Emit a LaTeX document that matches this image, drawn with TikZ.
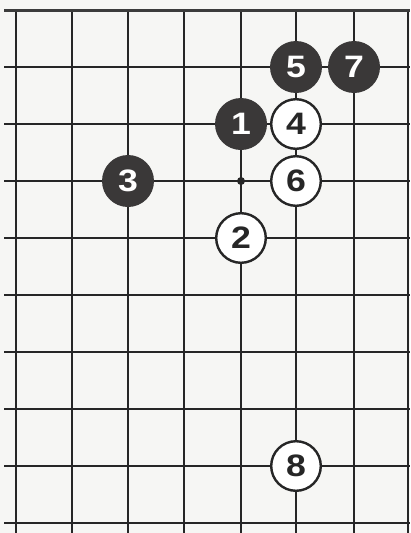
\documentclass[tikz,border=0pt]{standalone}
\usepackage{fontspec}
\setmainfont{Liberation Sans}
\definecolor{paper}{HTML}{F6F6F4}
\definecolor{ink}{HTML}{262626}
\definecolor{blackstone}{HTML}{3A3838}
\tikzset{
  gridline/.style={draw=ink, line width=1.5pt},
  edgeline/.style={draw=ink!90, line width=3pt},
  stonebase/.style={circle, minimum size=52pt, inner sep=0pt,
    font=\bfseries\fontsize{31}{31}\selectfont},
  bstone/.style={stonebase, fill=blackstone, text=white},
  wstone/.style={stonebase, draw=ink, fill=white, line width=2.4pt, minimum size=49.6pt, text=ink},
  hoshi/.style={circle, fill=ink, minimum size=8pt, inner sep=0pt}
}
\newcommand{\dg}[1]{\scalebox{1.15}[1]{#1}}
\begin{document}
\begin{tikzpicture}[x=1pt,y=-1pt]
\useasboundingbox (0,0) rectangle (410,533);
\fill[paper] (0,0) rectangle (410,533);
% vertical lines
\foreach \x in {16,72,128,184,241,296,354,408}
  \draw[gridline] (\x,10) -- (\x,533);
% horizontal lines
\foreach \y in {67,124,181,238,295,352,409,466,523}
  \draw[gridline] (4,\y) -- (410,\y);
% top edge
\draw[edgeline] (4,10) -- (410,10);
% hoshi
\node[hoshi] (h) at (241,181) {};
% stones
\node[bstone] (s5) at (296,67) {\dg{5}};
\node[bstone] (s7) at (354,67) {\dg{7}};
\node[bstone] (s1) at (241,124) {\dg{1}};
\node[wstone] (s4) at (296,124) {\dg{4}};
\node[bstone] (s3) at (128,181) {\dg{3}};
\node[wstone] (s6) at (296,181) {\dg{6}};
\node[wstone] (s2) at (241,238) {\dg{2}};
\node[wstone] (s8) at (296,466) {\dg{8}};
\end{tikzpicture}
\end{document}
